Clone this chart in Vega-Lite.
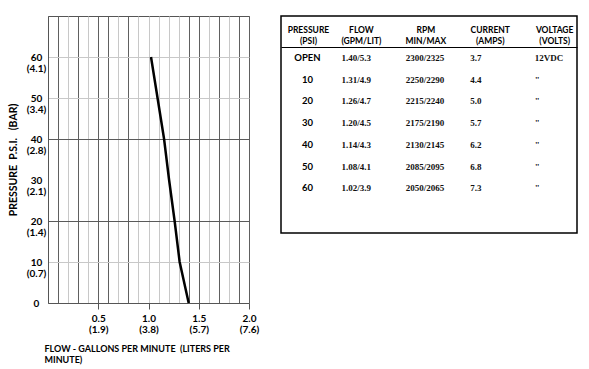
{
  "$schema": "https://vega.github.io/schema/vega-lite/v6.json",
  "background": "white",
  "padding": {"left": 7, "top": 15, "right": 5, "bottom": 5},
  "config": {"font": "Lato", "view": {"stroke": null}},
  "bounds": "flush",
  "spacing": 32,
  "hconcat": [
    {
      "width": 201,
      "height": 287,
      "view": {"stroke": "#555", "strokeWidth": 1},
      "data": {"values": [
        {"psi": 0, "gpm": 1.40},
        {"psi": 10, "gpm": 1.31},
        {"psi": 20, "gpm": 1.26},
        {"psi": 30, "gpm": 1.205},
        {"psi": 40, "gpm": 1.155},
        {"psi": 50, "gpm": 1.09},
        {"psi": 60, "gpm": 1.025}
      ]},
      "mark": {"type": "line", "color": "black", "strokeWidth": 2.5},
      "encoding": {
        "x": {
          "field": "gpm", "type": "quantitative",
          "scale": {"domain": [0, 2], "nice": false},
          "axis": {
            "values": [0.1,0.2,0.3,0.4,0.5,0.6,0.7,0.8,0.9,1,1.1,1.2,1.3,1.4,1.5,1.6,1.7,1.8,1.9,2],
            "title": ["FLOW - GALLONS PER MINUTE \u00a0(LITERS PER", "MINUTE)"],
            "titleFont": "Lato", "titleFontSize": 9, "titleFontWeight": "bold", "titleColor": "black",
            "titleAnchor": "start", "titleAlign": "left", "titleBaseline": "top",
            "titleX": -4, "titleY": 41, "titleLineHeight": 11,
            "grid": true,
            "gridColor": {"condition": {"test": "indexof([0.1,0.3,0.5,0.6,0.8,1.4,1.5,1.7,1.9,2], datum.value) >= 0", "value": "#606060"}, "value": "#c8c8c8"},
            "gridWidth": 1,
            "domainColor": "#555",
            "ticks": true, "tickSize": 6, "tickColor": "#555",
            "tickOpacity": {"condition": {"test": "indexof([0.5,1,1.5,2], datum.value) >= 0", "value": 1}, "value": 0},
            "labelExpr": "datum.value == 0.5 ? ['0.5', '(1.9)'] : datum.value == 1 ? ['1.0', '(3.8)'] : datum.value == 1.5 ? ['1.5', '(5.7)'] : datum.value == 2 ? ['2.0', '(7.6)'] : ''",
            "labelFont": "Lato", "labelFontSize": 10, "labelFontWeight": "bold", "labelColor": "black",
            "labelBaseline": "top", "labelPadding": 4, "labelLineHeight": 11,
            "labelFlush": false, "labelOverlap": false, "labelBound": false
          }
        },
        "y": {
          "field": "psi", "type": "quantitative",
          "scale": {"domain": [0, 70], "nice": false},
          "axis": {
            "values": [0, 10, 20, 30, 40, 50, 60],
            "title": "PRESSURE \u00a0P.S.I. \u00a0\u00a0(BAR)",
            "titleFont": "Lato", "titleFontSize": 10.5, "titleFontWeight": "bold", "titleColor": "black",
            "titlePadding": 8,
            "grid": true,
            "gridColor": {"condition": {"test": "datum.value == 20 || datum.value == 40", "value": "#5a5a5a"}, "value": "#c8c8c8"},
            "gridOpacity": {"condition": {"test": "datum.value == 30", "value": 0}, "value": 1},
            "ticks": false, "tickSize": 0,
            "domainColor": "#555",
            "labelExpr": "datum.value == 0 ? ['0', ''] : datum.value == 10 ? ['10', '(0.7)'] : datum.value == 20 ? ['20', '(1.4)'] : datum.value == 30 ? ['30', '(2.1)'] : datum.value == 40 ? ['40', '(2.8)'] : datum.value == 50 ? ['50', '(3.4)'] : ['60', '(4.1)']",
            "labelFont": "Lato", "labelFontSize": 10, "labelFontWeight": "bold", "labelColor": "black",
            "labelAlign": "center", "labelBaseline": "middle", "labelOffset": 0,
            "labelPadding": 12, "labelLineHeight": 11, "labelOverlap": false
          }
        },
        "order": {"field": "psi"}
      }
    },
    {
      "width": 296,
      "height": 217,
      "view": {"stroke": "black", "strokeWidth": 1.5},
      "data": {"values": [
        {"pressure": "OPEN", "flow": "1.40/5.3", "rpm": "2300/2325", "current": "3.7", "voltage": "12VDC"},
        {"pressure": "10", "flow": "1.31/4.9", "rpm": "2250/2290", "current": "4.4", "voltage": "\""},
        {"pressure": "20", "flow": "1.26/4.7", "rpm": "2215/2240", "current": "5.0", "voltage": "\""},
        {"pressure": "30", "flow": "1.20/4.5", "rpm": "2175/2190", "current": "5.7", "voltage": "\""},
        {"pressure": "40", "flow": "1.14/4.3", "rpm": "2130/2145", "current": "6.2", "voltage": "\""},
        {"pressure": "50", "flow": "1.08/4.1", "rpm": "2085/2095", "current": "6.8", "voltage": "\""},
        {"pressure": "60", "flow": "1.02/3.9", "rpm": "2050/2065", "current": "7.3", "voltage": "\""}
      ]},
      "layer": [
        {
          "transform": [{"fold": ["flow", "rpm", "current", "voltage"], "as": ["col", "txt"]}],
          "mark": {"type": "text", "align": "left", "baseline": "middle", "font": "Liberation Serif", "fontWeight": "bold", "fontSize": 9, "color": "#111"},
          "encoding": {
            "x": {"field": "col", "type": "nominal",
                  "scale": {"type": "point", "domain": ["flow", "rpm", "current", "voltage"], "padding": 0.798, "align": 0.588},
                  "axis": null},
            "y": {"field": "pressure", "type": "nominal",
                  "scale": {"type": "band", "domain": ["HEADER", "OPEN", "10", "20", "30", "40", "50", "60"], "paddingInner": 0, "paddingOuter": 1.01, "align": 0.22},
                  "axis": {"values": ["OPEN"], "grid": true, "gridColor": "black", "gridWidth": 1.2, "bandPosition": 0,
                           "labels": false, "ticks": false, "domain": false, "title": null}},
            "text": {"field": "txt"}
          }
        },
        {
          "mark": {"type": "text", "align": "center", "baseline": "middle", "dx": -34, "font": "Lato", "fontWeight": "bold", "fontSize": 9.5, "color": "black"},
          "encoding": {
            "x": {"datum": "flow", "type": "nominal"},
            "y": {"field": "pressure", "type": "nominal"},
            "text": {"field": "pressure"}
          }
        },
        {
          "data": {"values": [{"head": "PRESSURE\n(PSI)"}]},
          "mark": {"type": "text", "align": "center", "baseline": "middle", "dx": -33, "dy": -6, "lineBreak": "\n", "lineHeight": 11, "font": "Lato", "fontWeight": "bold", "fontSize": 8.5, "color": "black"},
          "encoding": {
            "x": {"datum": "flow", "type": "nominal"},
            "y": {"datum": "HEADER", "type": "nominal"},
            "text": {"field": "head"}
          }
        },
        {
          "data": {"values": [
            {"col": "flow", "head": "FLOW\n(GPM/LIT)"},
            {"col": "rpm", "head": "RPM\nMIN/MAX"},
            {"col": "current", "head": "CURRENT\n(AMPS)"},
            {"col": "voltage", "head": "VOLTAGE\n(VOLTS)"}
          ]},
          "mark": {"type": "text", "align": "center", "baseline": "middle", "dx": 20, "dy": -6, "lineBreak": "\n", "lineHeight": 11, "font": "Lato", "fontWeight": "bold", "fontSize": 8.5, "color": "black"},
          "encoding": {
            "x": {"field": "col", "type": "nominal"},
            "y": {"datum": "HEADER", "type": "nominal"},
            "text": {"field": "head"}
          }
        }
      ]
    }
  ]
}
